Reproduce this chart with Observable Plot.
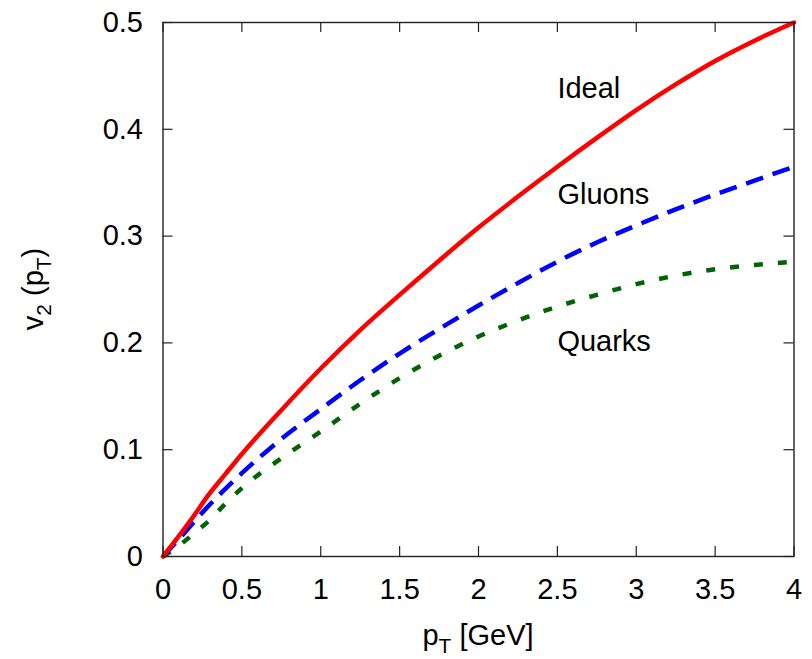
<!DOCTYPE html>
<html><head><meta charset="utf-8">
<script src="https://cdn.jsdelivr.net/npm/d3@7"></script>
<script src="https://cdn.jsdelivr.net/npm/@observablehq/plot@0.6"></script>
<style>body{margin:0;background:#fff}</style>
</head><body><div id="chart"></div>
<script>
const pT     = [0, 0.1, 0.2, 0.28, 0.4, 0.5, 0.75, 1, 1.25, 1.5, 1.75, 2, 2.25, 2.5, 2.75, 3, 3.25, 3.5, 3.75, 4];
const ideal  = [0, 0.019, 0.039, 0.056, 0.078, 0.096, 0.137, 0.176, 0.212, 0.245, 0.277, 0.308, 0.337, 0.365, 0.392, 0.418, 0.442, 0.464, 0.483, 0.5];
const gluons = [0, 0.016, 0.033, 0.046, 0.064, 0.078, 0.110, 0.138, 0.165, 0.190, 0.213, 0.235, 0.256, 0.276, 0.294, 0.310, 0.325, 0.339, 0.352, 0.365];
const quarks = [0, 0.010, 0.022, 0.032, 0.050, 0.064, 0.092, 0.117, 0.143, 0.167, 0.188, 0.206, 0.221, 0.234, 0.245, 0.255, 0.263, 0.269, 0.273, 0.276];
const xTicks = [0, 0.5, 1, 1.5, 2, 2.5, 3, 3.5, 4];
const yTicks = [0, 0.1, 0.2, 0.3, 0.4, 0.5];
const labelNames = ["Ideal", "Gluons", "Quarks"];
const labelX = [2.5, 2.5, 2.5];
const labelY = [0.429, 0.330, 0.192];

const W = 812, H = 659, mL = 162.5, mR = 18.5, mT = 22, mB = 103;
const frameH = H - mT - mB, frameW = W - mL - mR;
const FONT = "'Liberation Sans', Arial, Helvetica, sans-serif";
const FS = 29;
const rows = vals => pT.map((x, i) => ({x, y: vals[i]}));
const labels = labelNames.map((name, i) => ({name, x: labelX[i], y: labelY[i]}));

const plot = Plot.plot({
  width: W, height: H,
  marginLeft: mL, marginRight: mR, marginTop: mT, marginBottom: mB,
  style: {fontFamily: FONT, fontSize: FS + "px", background: "white", color: "black"},
  x: {domain: [0, 4]},
  y: {domain: [0, 0.5]},
  marks: [
    Plot.axisX(xTicks, {tickSize: 0, tickPadding: 22, tickFormat: d => String(d), label: null, fontSize: FS}),
    Plot.axisY(yTicks, {tickSize: 0, tickPadding: 20, tickFormat: d => String(d), label: null, fontSize: FS}),
    Plot.tickX(xTicks, {x: d => d, insetTop: frameH - 10, stroke: "#222", strokeWidth: 1.2}),
    Plot.tickX(xTicks, {x: d => d, insetBottom: frameH - 10, stroke: "#222", strokeWidth: 1.2}),
    Plot.tickY(yTicks, {y: d => d, insetRight: frameW - 10, stroke: "#222", strokeWidth: 1.2}),
    Plot.tickY(yTicks, {y: d => d, insetLeft: frameW - 10, stroke: "#222", strokeWidth: 1.2}),
    Plot.line(rows(quarks), {x: "x", y: "y", stroke: "#006400", strokeWidth: 4.5, strokeDasharray: "9,15", strokeLinecap: "butt", curve: "monotone-x"}),
    Plot.line(rows(gluons), {x: "x", y: "y", stroke: "#0000ff", strokeWidth: 4.5, strokeDasharray: "18,10", strokeLinecap: "butt", curve: "monotone-x"}),
    Plot.line(rows(ideal), {x: "x", y: "y", stroke: "#ff0000", strokeWidth: 4.5, curve: "monotone-x"}),
    Plot.frame({stroke: "#222", strokeWidth: 1.4}),
    Plot.text(labels, {x: "x", y: "y", text: "name", textAnchor: "start", lineAnchor: "bottom", fontSize: FS, fill: "black"})
  ]
});

const svg = d3.select(plot);
// x axis title: p_T [GeV]
const xt = svg.append("text")
  .attr("x", mL + frameW / 2).attr("y", 645)
  .attr("text-anchor", "middle").attr("font-size", FS).attr("font-family", FONT).attr("fill", "black");
xt.append("tspan").text("p");
xt.append("tspan").attr("dy", 8).attr("font-size", FS * 0.72).text("T");
xt.append("tspan").attr("dy", -8).text(" [GeV]");
// y axis title: v_2 (p_T)
const yt = svg.append("text")
  .attr("transform", `translate(43,${mT + frameH / 2}) rotate(-90)`)
  .attr("text-anchor", "middle").attr("font-size", FS).attr("font-family", FONT).attr("fill", "black");
yt.append("tspan").text("v");
yt.append("tspan").attr("dy", 8).attr("font-size", FS * 0.72).text("2");
yt.append("tspan").attr("dy", -8).text(" (p");
yt.append("tspan").attr("dy", 8).attr("font-size", FS * 0.72).text("T");
yt.append("tspan").attr("dy", -8).text(")");

document.getElementById("chart").appendChild(plot);
</script>
</body></html>
